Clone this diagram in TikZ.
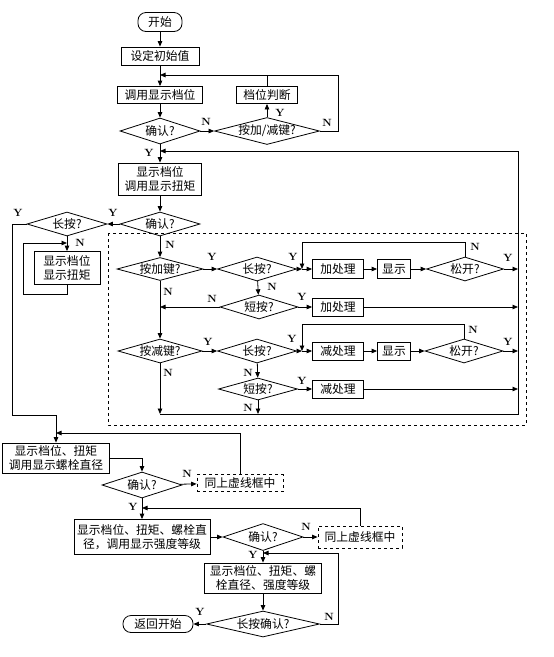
\documentclass[tikz,border=0pt]{standalone}
\usepackage{fontspec}
\newfontfamily\cjk{Noto Sans CJK SC}
\usetikzlibrary{shapes.geometric,arrows.meta}
\begin{document}
\begin{tikzpicture}[x=1pt,y=-1pt,line width=0.8pt,
  >={Triangle[length=5.5pt,width=4.5pt]},
  box/.style={draw,rectangle,inner sep=0pt,font=\cjk\fontsize{11.8}{14}\selectfont,align=center},
  term/.style={box,rounded corners=8pt},
  dbox/.style={box,dashed},
  dia/.style={draw,diamond,inner sep=0pt,aspect=1},
  lab/.style={font=\cjk\fontsize{11.8}{14}\selectfont,inner sep=0pt},
  yn/.style={font=\bfseries\fontsize{10.5}{12}\selectfont,inner sep=0pt}]
\useasboundingbox (0,0) rectangle (554,657);
% top part
\node[term,minimum width=44,minimum height=19] (start) at (160,22) {开始};
\node[box,minimum width=78,minimum height=18] (init) at (160,56) {设定初始值};
\node[box,minimum width=85,minimum height=17] (call1) at (160,95) {调用显示档位};
\node[box,minimum width=61,minimum height=17] (judge) at (267,95) {档位判断};
\node[dia,minimum width=80,minimum height=26,label={[lab]center:确认?}] (c1) at (160,131) {};
\node[dia,minimum width=105,minimum height=27,label={[lab]center:按加/减键?}] (key) at (267,131) {};
\coordinate (j1) at (160,75);
\coordinate (j2) at (160,151);
\node[box,minimum width=83,minimum height=32] (disp1) at (160,179) {显示档位\\调用显示扭矩};
\node[dia,minimum width=80,minimum height=24,label={[lab]center:确认?}] (c2) at (160,224) {};
\node[dia,minimum width=80,minimum height=24,label={[lab]center:长按?}] (lp) at (67,224) {};
\coordinate (j3) at (67,243);
\node[box,minimum width=66,minimum height=33] (disp2) at (67,268) {显示档位\\显示扭矩};
% dashed region
\draw[dashed,line width=0.7pt] (108,233) rectangle (526,425);
\node[dia,minimum width=86,minimum height=23,label={[lab]center:按加键?}] (pa) at (160,269) {};
\node[dia,minimum width=79,minimum height=24,label={[lab]center:长按?}] (lp2) at (257,269) {};
\coordinate (j4) at (302,269);
\node[box,minimum width=51,minimum height=19] (add1) at (338,269) {加处理};
\node[box,minimum width=33,minimum height=19] (show1) at (394,269) {显示};
\node[dia,minimum width=77,minimum height=24,label={[lab]center:松开?}] (rel1) at (465,269) {};
\node[dia,minimum width=78,minimum height=24,label={[lab]center:短按?}] (sp1) at (259,307) {};
\node[box,minimum width=51,minimum height=18] (add2) at (338,307) {加处理};
\node[dia,minimum width=84,minimum height=24,label={[lab]center:按减键?}] (pm) at (160,351) {};
\node[dia,minimum width=79,minimum height=24,label={[lab]center:长按?}] (lp3) at (257,351) {};
\coordinate (j5) at (302,351);
\node[box,minimum width=51,minimum height=18] (sub1) at (338,351) {减处理};
\node[box,minimum width=33,minimum height=18] (show2) at (394,351) {显示};
\node[dia,minimum width=78,minimum height=24,label={[lab]center:松开?}] (rel2) at (464,351) {};
\node[dia,minimum width=79,minimum height=22,label={[lab]center:短按?}] (sp2) at (258,389) {};
\node[box,minimum width=51,minimum height=18] (sub2) at (338,389) {减处理};
\coordinate (bl) at (160,414);
\coordinate (rtop) at (518,151);
% lower part
\coordinate (jl) at (56,415);
\coordinate (j6) at (56,433);
\node[box,minimum width=107,minimum height=30] (disp3) at (56,458) {显示档位、扭矩\\调用显示螺栓直径};
\node[dia,minimum width=80,minimum height=26,label={[lab]center:确认?}] (c3) at (142,485) {};
\node[dbox,minimum width=86,minimum height=17] (same1) at (240,483) {同上虚线框中};
\coordinate (j7) at (142,508);
\node[box,minimum width=136,minimum height=35] (disp4) at (142,537) {显示档位、扭矩、螺栓直\\径，调用显示强度等级};
\node[dia,minimum width=80,minimum height=27,label={[lab]center:确认?}] (c4) at (263,537) {};
\node[dbox,minimum width=84,minimum height=22] (same2) at (360,537) {同上虚线框中};
\coordinate (j8) at (263,553);
\node[box,minimum width=117,minimum height=30] (disp5) at (263,578) {显示档位、扭矩、螺\\栓直径、强度等级};
\node[dia,minimum width=113,minimum height=26,label={[lab]center:长按确认?}] (lc) at (263,624) {};
\node[term,minimum width=70,minimum height=17] (ret) at (158,624) {返回开始};
% connectors top
\draw[->] (start) -- (init);
\draw[->] (init) -- (call1);
\draw (judge.north) -- (judge.north |- j1);
\draw[->] (key.east) -- ++(18,0) |- (j1);
\draw[->] (call1) -- (c1);
\draw[->] (c1) -- (key);
\draw[->] (key) -- (judge);
\draw[->] (c1) -- (disp1);
\draw[->] (disp1) -- (c2);
\draw[->] (c2) -- (lp);
\draw[->] (lp.west) -- ++(-14,0) |- (jl) -- (disp3.north);
\draw[->] (lp) -- (disp2);
\draw[->] (disp2.south) -- ++(0,9) -- ++(-44,0) |- (j3);
% dashed region connectors
\draw[->] (c2) -- (pa);
\draw[->] (pa) -- (lp2);
\draw[->] (lp2) -- (j4);
\draw[->] (j4) -- (add1);
\draw[->] (add1) -- (show1);
\draw[->] (show1) -- (rel1);
\draw[->] (rel1.north) -- ++(0,-14) -| (j4);
\draw[->] (rel1.east) -- (rel1.east -| rtop);
\draw[->] (lp2) -- (sp1);
\draw[->] (sp1) -- (add2);
\draw[->] (add2.east) -- (add2.east -| rtop);
\draw[->] (sp1.west) -- (sp1.west -| pa);
\draw[->] (pa) -- (pm);
\draw[->] (pm) -- (lp3);
\draw[->] (lp3) -- (j5);
\draw[->] (j5) -- (sub1);
\draw[->] (sub1) -- (show2);
\draw[->] (show2) -- (rel2);
\draw[->] (rel2.north) -- ++(0,-14) -| (j5);
\draw[->] (rel2.east) -- (rel2.east -| rtop);
\draw[->] (lp3) -- (sp2);
\draw[->] (sp2) -- (sub2);
\draw[->] (sub2.east) -- (sub2.east -| rtop);
\draw[->] (sp2) -- (sp2 |- bl);
\draw[->] (pm) -- (bl);
\draw[->] (bl) -| (rtop) -- (j2);
% lower connectors
\draw[->] (disp3.east) -| (c3.north);
\draw[->] (c3) -- (same1);
\draw[->] (same1.north) |- (j6);
\draw[->] (c3) -- (disp4);
\draw[->] (disp4) -- (c4);
\draw[->] (c4) -- (same2);
\draw[->] (same2.north) |- (j7);
\draw[->] (c4) -- (disp5);
\draw[->] (disp5) -- (lc);
\draw[->] (lc.east) -- ++(18,0) |- (j8);
\draw[->] (lc) -- (ret);
% Y/N labels
\node[yn] (l1) at (206,122) {N};
\node[yn] (l2) at (280,113) {Y};
\node[yn] (l3) at (327,123) {N};
\node[yn] (l4) at (149,153) {Y};
\node[yn] (l5) at (113,213) {Y};
\node[yn] (l6) at (18,213) {Y};
\node[yn] (l7) at (80,243) {N};
\node[yn] (l8) at (170,245) {N};
\node[yn] (l9) at (212,257) {Y};
\node[yn] (l10) at (293,257) {Y};
\node[yn] (l11) at (475,247) {N};
\node[yn] (l12) at (508,258) {Y};
\node[yn] (l13) at (272,287) {N};
\node[yn] (l14) at (168,292) {N};
\node[yn] (l15) at (212,299) {N};
\node[yn] (l16) at (302,297) {Y};
\node[yn] (l17) at (208,342) {Y};
\node[yn] (l18) at (292,339) {Y};
\node[yn] (l19) at (473,330) {N};
\node[yn] (l20) at (508,342) {Y};
\node[yn] (l21) at (168,373) {N};
\node[yn] (l22) at (248,373) {N};
\node[yn] (l23) at (302,381) {Y};
\node[yn] (l24) at (248,408) {N};
\node[yn] (l25) at (187,474) {N};
\node[yn] (l26) at (133,507) {Y};
\node[yn] (l27) at (306,527) {N};
\node[yn] (l28) at (253,555) {Y};
\node[yn] (l29) at (329,617) {N};
\node[yn] (l30) at (200,612) {Y};
\end{tikzpicture}
\end{document}
